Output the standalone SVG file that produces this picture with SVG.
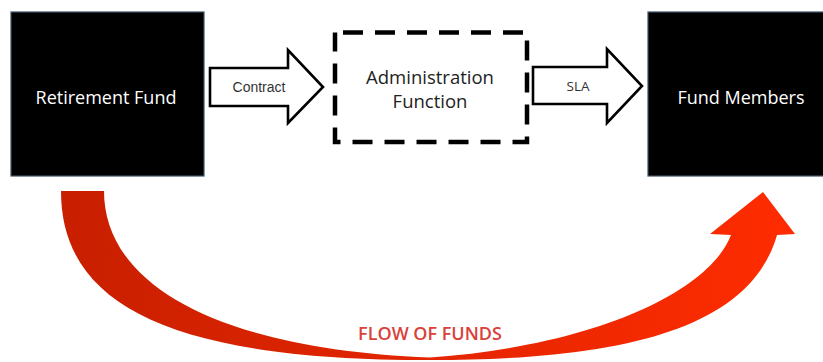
<svg xmlns="http://www.w3.org/2000/svg" width="823" height="362" viewBox="0 0 823 362">
<defs>
<style>
.box{fill:#000;stroke:#3f5266;stroke-width:1.2}
.wt{fill:#fff;font-family:"Open Sans","DejaVu Sans",sans-serif;font-size:18px;text-anchor:middle}
.dt{fill:#222;font-family:"Open Sans","DejaVu Sans",sans-serif;font-size:18.5px;text-anchor:middle}
.blk{fill:#fff;stroke:#000;stroke-width:2.6;stroke-linejoin:miter}
.al{fill:#333;font-family:"Liberation Sans",Arial,sans-serif;font-size:14px;text-anchor:middle}
.al2{fill:#333;font-family:"Open Sans","DejaVu Sans",sans-serif;font-size:13.5px;text-anchor:middle}
</style>
<linearGradient id="red" x1="61" y1="0" x2="795" y2="0" gradientUnits="userSpaceOnUse">
<stop offset="0" stop-color="#c81f00"/>
<stop offset="1" stop-color="#ff2c00"/>
</linearGradient>
</defs>
<rect width="823" height="362" fill="#fff"/>

<g id="connectors">
<g id="contract-arrow">
<path class="blk" d="M210 68 L288 68 L288 50 L323 87 L288 123 L288 106 L210 106 Z"/>
<text class="al" x="259" y="92">Contract</text>
</g>
<g id="sla-arrow">
<path class="blk" d="M533 67 L607 67 L607 49 L642 86 L607 123 L607 104 L533 104 Z"/>
<text class="al2" x="578" y="91">SLA</text>
</g>
<g id="flow-of-funds">
<path fill="url(#red)" d="M61 191 C61 310 180 360 430 360 C620 360 750 330 777 235 L795 234 L763 192 L710 234 L731 235 C710 290 600 345 430 357.5 C230 350 104 290 104 191 Z"/>
<text x="430" y="340" fill="#d9413a" font-family="'Open Sans','DejaVu Sans',sans-serif" font-size="18px" font-weight="600" text-anchor="middle">FLOW OF FUNDS</text>
</g>
</g>

<g id="retirement-fund">
<rect class="box" x="11" y="12" width="193" height="164"/>
<text class="wt" x="106" y="104">Retirement Fund</text>
</g>

<g id="administration-function">
<rect x="335" y="32.5" width="192" height="109.5" fill="#fff" stroke="#000" stroke-width="4.5" stroke-dasharray="20 12" stroke-dashoffset="24"/>
<text class="dt" x="430" y="84">Administration</text>
<text class="dt" x="430" y="108">Function</text>
</g>

<g id="fund-members">
<rect class="box" x="648" y="12" width="180" height="164"/>
<text class="wt" x="741" y="104">Fund Members</text>
</g>
</svg>
